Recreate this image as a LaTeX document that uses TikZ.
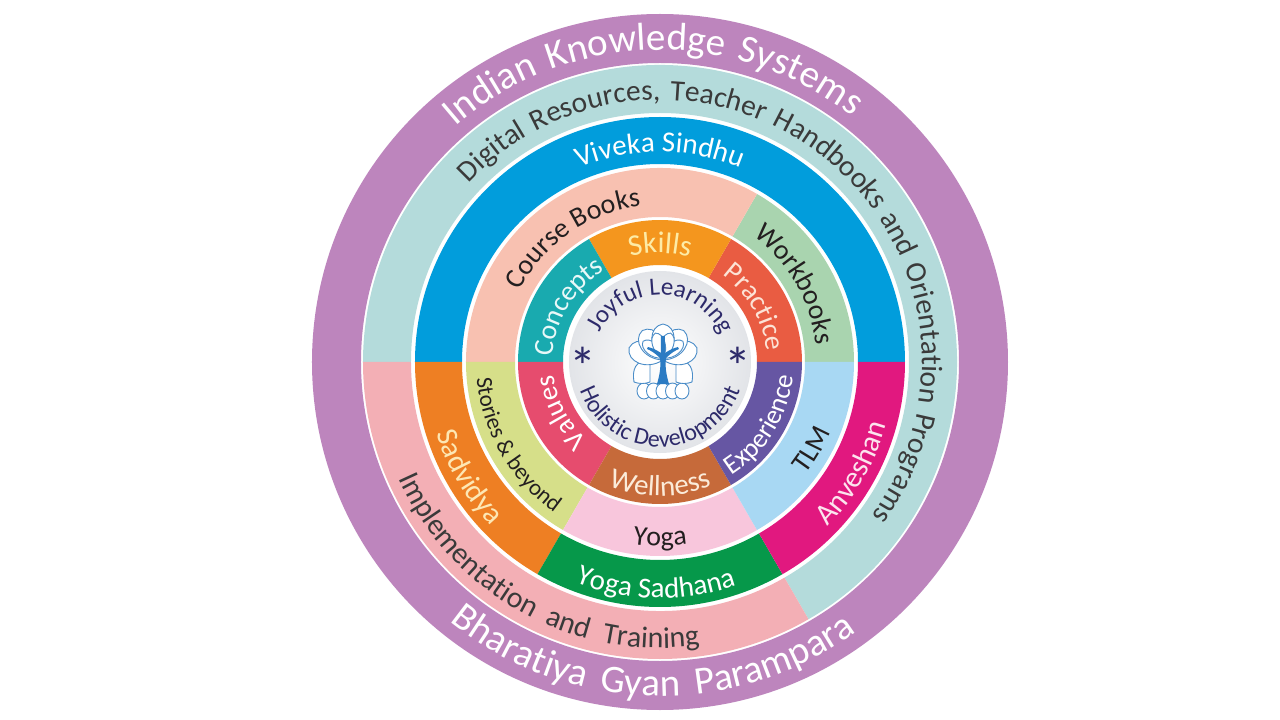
\documentclass[tikz,border=0pt]{standalone}
\usepackage{fontspec}
\setmainfont{Carlito}
\usetikzlibrary{decorations.text}
\definecolor{cPurple}{HTML}{BD85BD}
\definecolor{cTeal}{HTML}{B4DBDB}
\definecolor{cPinkImp}{HTML}{F3AFB5}
\definecolor{cBlue}{HTML}{019DDC}
\definecolor{cOrange}{HTML}{EE7F23}
\definecolor{cGreen}{HTML}{06984A}
\definecolor{cMagenta}{HTML}{E1187F}
\definecolor{cSalmon}{HTML}{F8C1B1}
\definecolor{cLgreen}{HTML}{A9D4AF}
\definecolor{cYellow}{HTML}{D6DF89}
\definecolor{cLpink}{HTML}{F8C6DC}
\definecolor{cLblue}{HTML}{A8D8F3}
\definecolor{cConcepts}{HTML}{19AAAF}
\definecolor{cSkills}{HTML}{F4961E}
\definecolor{cPractice}{HTML}{E95C42}
\definecolor{cExperience}{HTML}{6656A3}
\definecolor{cWellness}{HTML}{C66A3A}
\definecolor{cValues}{HTML}{E64C6E}
\definecolor{cNavy}{HTML}{2D2A6A}
\definecolor{cTree}{HTML}{4B8DC8}
\definecolor{cTrunk}{HTML}{2B7BC3}
\definecolor{cDark}{HTML}{3A3A3A}
\definecolor{cBlack}{HTML}{231F20}
\definecolor{cSkillsTxt}{HTML}{FDEBA6}
\definecolor{cConTxt}{HTML}{E8F8F8}
\definecolor{cPraTxt}{HTML}{FCE3D6}
\definecolor{cSadTxt}{HTML}{FDE7B4}
\definecolor{cAnvTxt}{HTML}{FCE4EE}
\definecolor{cWelTxt}{HTML}{FBEBD9}
\definecolor{cDiscEdge}{HTML}{E2E4E8}
% annular sector: colour, start angle, end angle, inner r, outer r
\newcommand\ringsec[5]{\fill[#1] (#2:#5) arc[start angle=#2,end angle=#3,radius=#5] -- (#3:#4) arc[start angle=#3,end angle=#2,radius=#4] -- cycle;}
% text on arc: align, radius, start, end, size, colour, text
\newcommand\arctext[7]{\path[decorate,decoration={text along path,text align={#1},text={|\fontsize{#5}{#5}\selectfont\color{#6}|#7}}] (#3:#2) arc[start angle=#3,end angle=#4,radius=#2];}
\tikzset{treeline/.style={draw=cTree,line width=0.9pt,fill=white}}
\begin{document}
\begin{tikzpicture}[x=1pt,y=1pt]
\useasboundingbox (-660,-358) rectangle (620,362);
\fill[white] (-660,-358) rectangle (620,362);
% outer ring
\ringsec{cPurple}{0}{360}{299}{348}
% ring 2
\ringsec{cTeal}{-60}{180}{249}{297}
\ringsec{cPinkImp}{180}{300}{249}{297}
% ring 3
\ringsec{cBlue}{0}{180}{198}{245}
\ringsec{cOrange}{180}{240}{198}{245}
\ringsec{cGreen}{240}{300}{198}{245}
\ringsec{cMagenta}{300}{360}{198}{245}
% ring 4
\ringsec{cLgreen}{0}{60}{145}{194}
\ringsec{cSalmon}{60}{180}{145}{194}
\ringsec{cYellow}{180}{240}{145}{194}
\ringsec{cLpink}{240}{300}{145}{194}
\ringsec{cLblue}{300}{360}{145}{194}
% ring 5
\ringsec{cPractice}{0}{60}{97}{142}
\ringsec{cSkills}{60}{120}{97}{142}
\ringsec{cConcepts}{120}{180}{97}{142}
\ringsec{cValues}{180}{240}{97}{142}
\ringsec{cWellness}{240}{300}{97}{142}
\ringsec{cExperience}{300}{360}{97}{142}
% centre disc
\shade[inner color=white,outer color=cDiscEdge] (0,0) circle[radius=91];
% texts, tops outward
\arctext{fit to path stretching spaces}{312}{131}{52}{39}{white}{Indian Knowledge Systems}
\arctext{fit to path stretching spaces}{262}{137}{-36}{29.5}{cDark}{Digital Resources, Teacher Handbooks and Orientation Programs}
\arctext{center}{210}{150}{30}{29}{white}{Viveka Sindhu}
\arctext{center}{157}{165}{85}{28}{cBlack}{Course Books}
\arctext{center}{157}{70}{-10}{28}{cBlack}{Workbooks}
\arctext{center}{109}{130}{50}{30}{cSkillsTxt}{Skills}
\arctext{center}{107}{189}{109}{28}{cConTxt}{Concepts}
\arctext{center}{107}{70}{-10}{28}{cPraTxt}{Practice}
\arctext{center}{107}{247}{167}{28}{white}{Values}
\arctext{center}{67}{179}{-1}{25}{cNavy}{Joyful Learning}
% texts, tops inward
\arctext{fit to path stretching spaces}{334}{231}{306}{39}{white}{Bharatiya Gyan Parampara}
\arctext{fit to path stretching spaces}{286}{204}{278}{30}{cDark}{Implementation and Training}
\arctext{center}{235}{171}{251}{30}{cSadTxt}{Sadvidya}
\arctext{center}{236}{229}{309}{29}{white}{Yoga Sadhana}
\arctext{center}{235}{290}{370}{30}{cAnvTxt}{Anveshan}
\arctext{center}{184}{170}{250}{23}{cBlack}{Stories {\&} beyond}
\arctext{center}{184}{230}{310}{28}{cBlack}{Yoga}
\arctext{center}{184}{290}{370}{28}{cBlack}{TLM}
\arctext{center}{134}{230}{310}{29}{cWelTxt}{Wellness}
\arctext{center}{134}{288}{368}{27}{white}{Experience}
\arctext{center}{85}{180}{360}{24}{cNavy}{Holistic Development}
% asterisks
\node[text=cNavy,font=\fontsize{54}{54}\selectfont] (astL) at (-77,-4) {*};
\node[text=cNavy,font=\fontsize{54}{54}\selectfont] (astR) at (78,-4) {*};
% tree logo
\begin{scope}[shift={(3,0)}]
\foreach \x in {-19,-9.5,0,9.5,19} {\draw[treeline] (\x,-29) ellipse[x radius=7,y radius=8];}
\draw[treeline] (-13,2) .. controls (-28,2) and (-31,-8) .. (-29,-20) .. controls (-24,-22) and (-18,-22) .. (-13,-20) -- cycle;
\draw[treeline] (13,2) .. controls (28,2) and (31,-8) .. (29,-20) .. controls (24,-22) and (18,-22) .. (13,-20) -- cycle;
\foreach \a in {-70,70,-35,35,0} {\draw[treeline,rotate around={\a:(0,2)}] (0,2) .. controls (-16,14) and (-14,36) .. (0,38) .. controls (14,36) and (16,14) .. (0,2);}
\foreach \a in {-50,50,-17,17} {\draw[treeline,rotate around={\a:(0,4)}] (0,4) .. controls (-9,12) and (-8,28) .. (0,30) .. controls (8,28) and (9,12) .. (0,4);}
\fill[cTrunk] (-6,-22) .. controls (-3,-12) and (-2,-4) .. (-3,4) .. controls (-8,9) and (-13,12) .. (-16,13) -- (-15,15) .. controls (-10,14) and (-5,11) .. (-2,9) -- (-2,26) -- (2,26) -- (2,9) .. controls (5,11) and (10,14) .. (15,15) -- (16,13) .. controls (13,12) and (8,9) .. (3,4) .. controls (2,-4) and (3,-12) .. (6,-22) -- cycle;
\end{scope}
\end{tikzpicture}
\end{document}
